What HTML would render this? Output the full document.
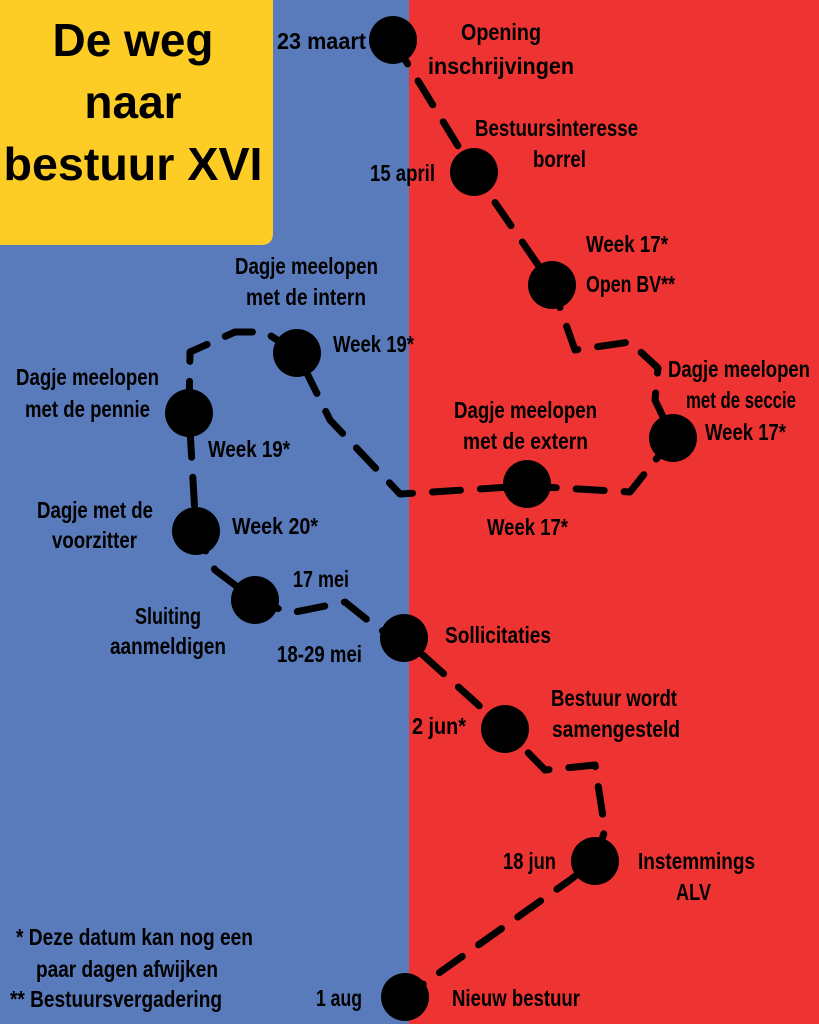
<!DOCTYPE html>
<html><head><meta charset="utf-8"><style>
html,body{margin:0;padding:0;width:819px;height:1024px;overflow:hidden}
svg{display:block}
.t{font-family:"Liberation Sans Narrow","Liberation Sans",sans-serif;font-weight:bold;font-size:23px;fill:#000}
.h{font-family:"Liberation Sans","DejaVu Sans",sans-serif;font-weight:bold;font-size:46px;fill:#000}
</style></head><body>
<svg width="819" height="1024" viewBox="0 0 819 1024" xmlns="http://www.w3.org/2000/svg">
<rect x="0" y="0" width="409" height="1024" fill="#5a7bbb"/>
<rect x="409" y="0" width="410" height="1024" fill="#ee3432"/>
<path d="M0 0H273V233Q273 245 261 245H0Z" fill="#fecd25"/>
<text class="h" x="133" y="56" text-anchor="middle" textLength="161" lengthAdjust="spacingAndGlyphs">De weg</text>
<text class="h" x="133" y="118" text-anchor="middle">naar</text>
<text class="h" x="133" y="180" text-anchor="middle" textLength="259" lengthAdjust="spacingAndGlyphs">bestuur XVI</text>
<polyline fill="none" stroke="#000" stroke-width="7" stroke-dasharray="28,20" stroke-linecap="round" stroke-linejoin="round"
points="393,40 474,172 552,285 575,350 630,342 658,368 655,400 673,438 630,492 527,486 400,494 330,420 297,353 265,332 235,332 190,352 189,413 196,531 215,570 255,600 290,613 345,602 380,630 404,638 505,729 545,770 595,765 605,830 595,861 570,880 405,997"/>
<g fill="#000">
<circle cx="393" cy="40" r="24"/><circle cx="474" cy="172" r="24"/><circle cx="552" cy="285" r="24"/>
<circle cx="673" cy="438" r="24"/><circle cx="527" cy="484" r="24"/><circle cx="297" cy="353" r="24"/>
<circle cx="189" cy="413" r="24"/><circle cx="196" cy="531" r="24"/><circle cx="255" cy="600" r="24"/>
<circle cx="404" cy="638" r="24"/><circle cx="505" cy="729" r="24"/><circle cx="595" cy="861" r="24"/>
<circle cx="405" cy="997" r="24"/>
</g>
<g class="t" lengthAdjust="spacingAndGlyphs">
<text class="t" x="277" y="49" textLength="89" lengthAdjust="spacingAndGlyphs">23 maart</text>
<text class="t" x="461" y="40" textLength="80" lengthAdjust="spacingAndGlyphs">Opening</text>
<text class="t" x="428" y="74" textLength="146" lengthAdjust="spacingAndGlyphs">inschrijvingen</text>
<text class="t" x="475" y="136" textLength="163" lengthAdjust="spacingAndGlyphs">Bestuursinteresse</text>
<text class="t" x="533" y="167" textLength="53" lengthAdjust="spacingAndGlyphs">borrel</text>
<text class="t" x="370" y="181" textLength="65" lengthAdjust="spacingAndGlyphs">15 april</text>
<text class="t" x="586" y="252" textLength="82" lengthAdjust="spacingAndGlyphs">Week 17*</text>
<text class="t" x="586" y="292" textLength="89" lengthAdjust="spacingAndGlyphs">Open BV**</text>
<text class="t" x="668" y="377" textLength="142" lengthAdjust="spacingAndGlyphs">Dagje meelopen</text>
<text class="t" x="686" y="408" textLength="110" lengthAdjust="spacingAndGlyphs">met de seccie</text>
<text class="t" x="705" y="440" textLength="81" lengthAdjust="spacingAndGlyphs">Week 17*</text>
<text class="t" x="454" y="418" textLength="143" lengthAdjust="spacingAndGlyphs">Dagje meelopen</text>
<text class="t" x="463" y="449" textLength="125" lengthAdjust="spacingAndGlyphs">met de extern</text>
<text class="t" x="487" y="535" textLength="81" lengthAdjust="spacingAndGlyphs">Week 17*</text>
<text class="t" x="235" y="274" textLength="143" lengthAdjust="spacingAndGlyphs">Dagje meelopen</text>
<text class="t" x="246" y="305" textLength="120" lengthAdjust="spacingAndGlyphs">met de intern</text>
<text class="t" x="333" y="352" textLength="81" lengthAdjust="spacingAndGlyphs">Week 19*</text>
<text class="t" x="16" y="385" textLength="143" lengthAdjust="spacingAndGlyphs">Dagje meelopen</text>
<text class="t" x="25" y="417" textLength="125" lengthAdjust="spacingAndGlyphs">met de pennie</text>
<text class="t" x="208" y="457" textLength="82" lengthAdjust="spacingAndGlyphs">Week 19*</text>
<text class="t" x="37" y="518" textLength="116" lengthAdjust="spacingAndGlyphs">Dagje met de</text>
<text class="t" x="52" y="548" textLength="85" lengthAdjust="spacingAndGlyphs">voorzitter</text>
<text class="t" x="232" y="534" textLength="86" lengthAdjust="spacingAndGlyphs">Week 20*</text>
<text class="t" x="293" y="587" textLength="56" lengthAdjust="spacingAndGlyphs">17 mei</text>
<text class="t" x="135" y="624" textLength="66" lengthAdjust="spacingAndGlyphs">Sluiting</text>
<text class="t" x="110" y="654" textLength="116" lengthAdjust="spacingAndGlyphs">aanmeldigen</text>
<text class="t" x="277" y="662" textLength="85" lengthAdjust="spacingAndGlyphs">18-29 mei</text>
<text class="t" x="445" y="643" textLength="106" lengthAdjust="spacingAndGlyphs">Sollicitaties</text>
<text class="t" x="551" y="706" textLength="126" lengthAdjust="spacingAndGlyphs">Bestuur wordt</text>
<text class="t" x="552" y="737" textLength="128" lengthAdjust="spacingAndGlyphs">samengesteld</text>
<text class="t" x="412" y="734" textLength="54" lengthAdjust="spacingAndGlyphs">2 jun*</text>
<text class="t" x="503" y="869" textLength="53" lengthAdjust="spacingAndGlyphs">18 jun</text>
<text class="t" x="638" y="869" textLength="117" lengthAdjust="spacingAndGlyphs">Instemmings</text>
<text class="t" x="676" y="900" textLength="35" lengthAdjust="spacingAndGlyphs">ALV</text>
<text class="t" x="316" y="1006" textLength="46" lengthAdjust="spacingAndGlyphs">1 aug</text>
<text class="t" x="452" y="1006" textLength="128" lengthAdjust="spacingAndGlyphs">Nieuw bestuur</text>
<text class="t" x="16" y="945" textLength="237" lengthAdjust="spacingAndGlyphs">*  Deze datum kan nog een</text>
<text class="t" x="36" y="977" textLength="182" lengthAdjust="spacingAndGlyphs">paar dagen afwijken</text>
<text class="t" x="10" y="1007" textLength="212" lengthAdjust="spacingAndGlyphs">** Bestuursvergadering</text>
</g>
</svg>
</body></html>
